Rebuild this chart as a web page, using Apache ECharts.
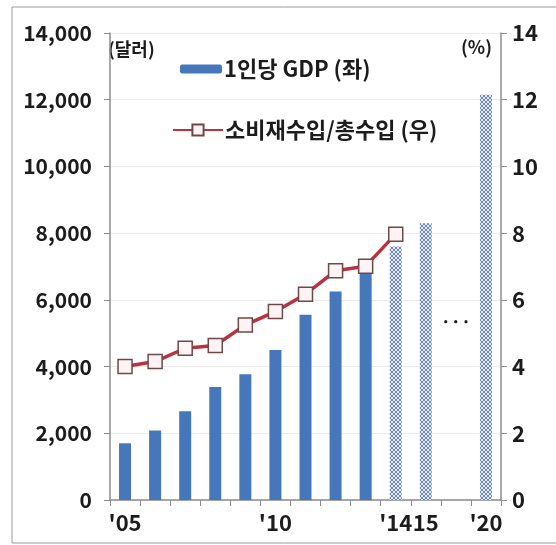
<!DOCTYPE html>
<html>
<head>
<meta charset="UTF-8">
<title>1인당 GDP와 소비재수입 비중</title>
<script src="https://cdn.jsdelivr.net/npm/echarts@6.0.0/dist/echarts.min.js"></script>
<style>
  html, body { margin: 0; padding: 0; background: #fff; }
  #main { width: 556px; height: 545px; }
</style>
</head>
<body>
<div id="main"></div>
<script>
// 연도 (2016~2019 은 '…' 한 칸으로 생략)
const years = ['2005', '2006', '2007', '2008', '2009', '2010', '2011', '2012', '2013', '2014', '2015', '…', '2020'];
const xLabels = ["'05", '', '', '', '', "'10", '', '', '', "'14", '15', '', "'20"];
// 1인당 GDP (달러), 2014년부터 전망치
const gdp = [1700, 2080, 2660, 3390, 3770, 4500, 5550, 6250, 6850, 7600, 8300, null, 12150];
const forecast = [false, false, false, false, false, false, false, false, false, true, true, false, true];
// 소비재수입/총수입 (%)
const consumerShare = [4.0, 4.15, 4.55, 4.63, 5.25, 5.65, 6.17, 6.87, 7.01, 7.97, null, null, null];

const leftTicks = { min: 0, max: 14000, interval: 2000 };
const rightTicks = { min: 0, max: 14, interval: 2 };

const FONT = '"Noto Sans CJK KR", "Noto Sans", sans-serif';
const INK = '#1c1c1c';

// 전망치 막대용 빗금 무늬
function hatch() {
  const c = document.createElement('canvas');
  c.width = 4; c.height = 4;
  const g = c.getContext('2d');
  g.fillStyle = '#e4ebf6';
  g.fillRect(0, 0, 4, 4);
  g.fillStyle = '#6f86ad';
  [[0, 0], [1, 1], [2, 2], [3, 3], [3, 0], [2, 1], [1, 2], [0, 3]].forEach(p => g.fillRect(p[0], p[1], 1, 1));
  return c;
}
const pattern = { image: hatch(), repeat: 'repeat' };

const border = { type: 'rect', shape: { x: 12, y: 7, width: 600, height: 536 },
  style: { fill: 'none', stroke: '#9a9a9a', lineWidth: 1 }, silent: true };

const chart = echarts.init(document.getElementById('main'));

const option = {
  animation: false,
  textStyle: { fontFamily: FONT },
  graphic: [border],
  grid: { left: 110, right: 55, top: 33, bottom: 45 },
  legend: [
    {
      data: ['1인당 GDP (좌)'],
      left: 175, top: 53,
      itemWidth: 42, itemHeight: 9,
      textStyle: { fontSize: 22, fontWeight: 'bold', color: INK, fontFamily: FONT, padding: [0, 0, 0, -3] }
    },
    {
      data: ['소비재수입/총수입 (우)'],
      left: 167, top: 114,
      itemWidth: 50, itemHeight: 14,
      textStyle: { fontSize: 22, fontWeight: 'bold', color: INK, fontFamily: FONT, padding: [0, 0, 0, -3] }
    }
  ],
  xAxis: {
    type: 'category',
    data: years,
    boundaryGap: true,
    axisLine: { lineStyle: { color: '#8c8c8c', width: 1.5 } },
    axisTick: { show: true, length: 6, alignWithLabel: false, lineStyle: { color: '#8c8c8c' } },
    axisLabel: {
      interval: 0,
      margin: 12,
      fontSize: 22,
      fontWeight: 'bold',
      color: INK,
      fontFamily: FONT,
      formatter: (v, i) => xLabels[i]
    }
  },
  yAxis: [
    {
      type: 'value',
      min: leftTicks.min, max: leftTicks.max, interval: leftTicks.interval,
      name: '(달러)',
      nameLocation: 'end',
      nameGap: -16,
      nameTextStyle: { fontSize: 18, fontWeight: 'bold', color: INK, align: 'left', verticalAlign: 'middle', padding: [0, 0, 0, -2] },
      axisLine: { show: true, lineStyle: { color: '#8c8c8c', width: 1.5 } },
      axisTick: { show: true, length: 6, lineStyle: { color: '#8c8c8c' } },
      axisLabel: {
        margin: 18,
        fontSize: 21,
        fontWeight: 'bold',
        color: INK,
        fontFamily: FONT,
        formatter: v => v.toLocaleString('en-US')
      },
      splitLine: { show: true, lineStyle: { color: '#ececec', width: 1 } }
    },
    {
      type: 'value',
      position: 'right',
      min: rightTicks.min, max: rightTicks.max, interval: rightTicks.interval,
      name: '(%)',
      nameLocation: 'end',
      nameGap: -14,
      nameTextStyle: { fontSize: 18, fontWeight: 'bold', color: INK, align: 'right', verticalAlign: 'middle', padding: [0, 9, 0, 0] },
      axisLine: { show: true, lineStyle: { color: '#8c8c8c', width: 1.5 } },
      axisTick: { show: true, length: 6, lineStyle: { color: '#8c8c8c' } },
      axisLabel: { margin: 11, fontSize: 22, fontWeight: 'bold', color: INK, fontFamily: FONT },
      splitLine: { show: false }
    }
  ],
  series: [
    {
      name: '1인당 GDP (좌)',
      type: 'bar',
      yAxisIndex: 0,
      barWidth: 12,
      itemStyle: { color: '#4677bb' },
      data: gdp.map((v, i) => forecast[i]
        ? { value: v, itemStyle: { color: pattern } }
        : v)
    },
    {
      name: '소비재수입/총수입 (우)',
      type: 'line',
      yAxisIndex: 1,
      symbol: 'rect',
      symbolSize: 14,
      connectNulls: false,
      lineStyle: { color: '#b8323f', width: 3.5 },
      itemStyle: { color: '#fff4f5', borderColor: '#6e4848', borderWidth: 1.5 },
      z: 5,
      data: consumerShare
    }
  ]
};

chart.setOption(option);

// 2016~2019 생략 표시
const dots = chart.convertToPixel({ xAxisIndex: 0, yAxisIndex: 1 }, ['…', 5.35]);
chart.setOption({
  graphic: [
    border,
    { type: 'text', x: dots[0], y: dots[1],
      style: { text: '···', fontSize: 17, fontWeight: 'bold', fill: INK, align: 'center', verticalAlign: 'middle', fontFamily: FONT } }
  ]
});
</script>
</body>
</html>
